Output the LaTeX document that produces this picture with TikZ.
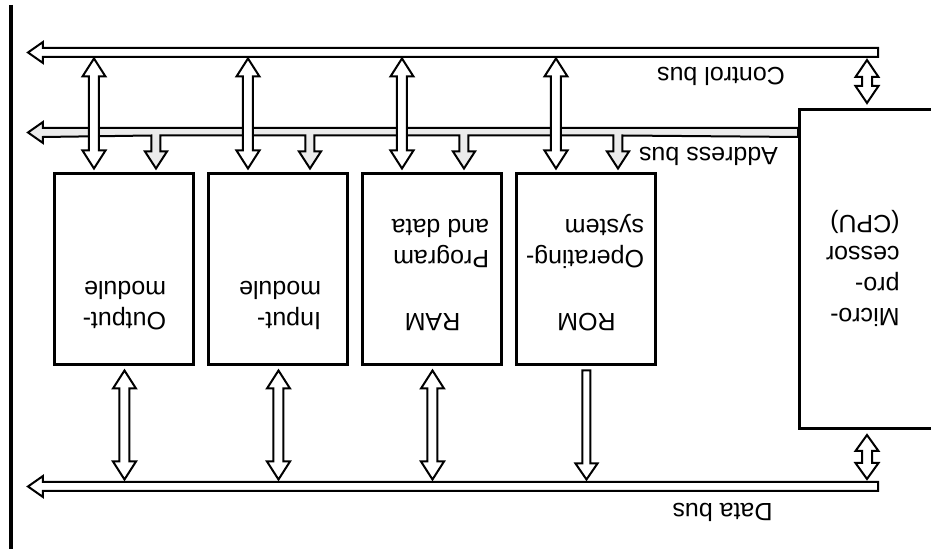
\documentclass[tikz,border=0pt]{standalone}
\usepackage{fontspec}
\setmainfont{Liberation Sans}
\usetikzlibrary{calc}

\tikzset{
  modbox/.style={draw, line width=1.5pt, minimum width=69.5pt, minimum height=95.5pt, inner sep=0pt},
  busline/.style={draw, line width=1pt, fill=white, line join=miter},
  lbl/.style={inner sep=0pt, font=\fontsize{12.5}{15.5}\selectfont},
  pics/dblarr/.style args={#1/#2}{code={
    \draw[busline] (0,0) -- (11.5,#2) -- (5,#2) -- (5,#1-#2) -- (11.5,#1-#2) -- (0,#1)
      -- (-11.5,#1-#2) -- (-5,#1-#2) -- (-5,#2) -- (-11.5,#2) -- cycle;}},
  pics/onearr/.style args={#1/#2}{code={
    \draw[busline] (-4,0) -- (4,0) -- (4,#1-#2) -- (11,#1-#2) -- (0,#1)
      -- (-11,#1-#2) -- (-4,#1-#2) -- cycle;}}
}

\begin{document}
\begin{tikzpicture}[x=0.5pt, y=0.5pt, rotate=180, transform shape]
    \useasboundingbox (0,0) rectangle (931,549);

    % Coordenadas de las puntas de los buses
    \coordinate (ctltip) at (903,52.5);
    \coordinate (addrtip) at (903,132.5);
    \coordinate (datatip) at (903,486.5);

    % Bloques
    \node[modbox, minimum width=80pt, minimum height=159.5pt, anchor=south east] (cpu) at (133,108) {};
    \node[modbox] (rom) at (344.5,269.5) {};
    \node[modbox] (ram) at (498.5,269.5) {};
    \node[modbox] (inp) at (652.5,269.5) {};
    \node[modbox] (outp) at (806.5,269.5) {};

    % Bus de control
    \draw[busline] (ctltip) -- ++(-15,10.5) -- ++(0,-6) -- (53,57) -- (53,48) -- (888,48) -- ++(0,-6) -- cycle;

    % Bus de datos
    \draw[busline] (datatip) -- ++(-15,10.5) -- ++(0,-6) -- (53,491) -- (53,482) -- (888,482) -- ++(0,-6) -- cycle;

    % Bus de direcciones, con sus ramas hacia los modulos
    \draw[busline, fill=black!8] (addrtip) -- ++(-15,10.5) -- ++(0,-6)
        \foreach \b in {outp,inp,ram,rom} {
            -- ($(\b.south)+(-27,-37)$) -- ++(0,16) -- ++(6.5,0) -- ++(-11,17)
            -- ++(-11,-17) -- ++(6.5,0) -- ++(0,-16) }
        -- (cpu.east |- 0,137) -- (cpu.east |- 0,128) -- (888,128) -- ++(0,-6) -- cycle;

    % Flechas del bus de control
    \foreach \b in {outp,inp,ram,rom}
        \pic at ($(\b.south)+(30.5,-114)$) {dblarr=110/18};

    % Flechas del bus de datos
    \foreach \b in {outp,inp,ram}
        \pic at ($(\b.north)+(0,4)$) {dblarr=109/18};
    \pic at ($(rom.north)+(0,4)$) {onearr=109/16};

    % Flechas de la CPU
    \pic at ($(cpu.south east)+(-69,-48)$) {dblarr=43/17};
    \pic at ($(cpu.north east)+(-69,5)$) {dblarr=44/16};

    % Linea del borde
    \draw[line width=2pt] (919.5,5) -- (919.5,560);

    % Etiquetas de los buses
    \node[lbl, anchor=base] (ctllbl) at (210,68) {Control bus};
    \node[lbl, anchor=base] (addrlbl) at (222.5,148) {Address bus};
    \node[lbl, anchor=base] (datalbl) at (208.5,503) {Data bus};

    % Textos de los bloques (la base es la de la ultima linea)
    \node[lbl, align=left, anchor=base west] (cputxt) at (31,216) {Micro-\\pro-\\cessor\\(CPU)};
    \node[lbl, anchor=base] (romtxt) at ($(rom.north)+(0,-53)$) {ROM};
    \node[lbl, align=left, anchor=base west] (romdesc) at ($(rom.north west)+(13,-147)$) {Operating-\\system};
    \node[lbl, anchor=base] (ramtxt) at ($(ram.north)+(0,-53)$) {RAM};
    \node[lbl, align=left, anchor=base west] (ramdesc) at ($(ram.north west)+(14,-147)$) {Program\\and data};
    \node[lbl, align=left, anchor=base west] (inptxt) at ($(inp.north west)+(28,-85)$) {Input-\\module};
    \node[lbl, align=left, anchor=base west] (outptxt) at ($(outp.north west)+(29,-85)$) {Output-\\module};
\end{tikzpicture}
\end{document}
